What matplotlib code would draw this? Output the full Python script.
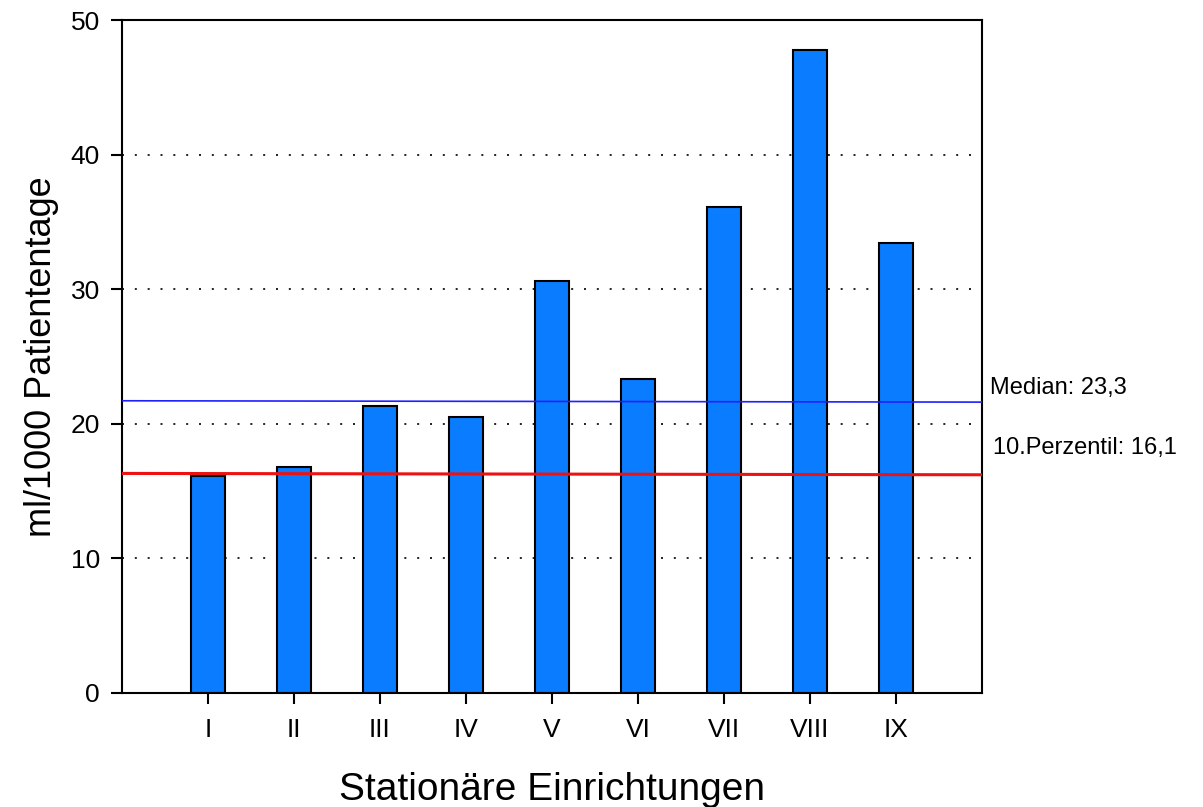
import matplotlib
matplotlib.use("Agg")
import matplotlib.pyplot as plt

categories = ["I", "II", "III", "IV", "V", "VI", "VII", "VIII", "IX"]
values = [16.1, 16.8, 21.3, 20.5, 30.6, 23.3, 36.1, 47.8, 33.4]
median_line = [21.7, 21.6]
perz_line = [16.3, 16.2]
median_label = "Median: 23,3"
perz_label = "10.Perzentil: 16,1"

plt.rcParams['font.family'] = ['Liberation Sans', 'DejaVu Sans']

fig = plt.figure(figsize=(12.03, 8.07), dpi=100)
ax = fig.add_axes([0.1014, 0.1416, 0.7149, 0.8336])

x = list(range(1, len(categories) + 1))
ax.set_xlim(0, 10)
ax.set_ylim(0, 50)

for yv in [10, 20, 30, 40]:
    ax.plot([0, 10], [yv, yv], color='black', linestyle=(0, (1.2, 6.5)), linewidth=1.2, zorder=1)

ax.bar(x, values, width=0.4, color='#0A7CFF', edgecolor='black', linewidth=1.5, zorder=2)

ax.plot([0, 10], median_line, color='#1f1fff', linewidth=1.2, zorder=3)
ax.plot([0, 10], perz_line, color='#ee1111', linewidth=2.2, zorder=3)

ax.text(1.009, median_line[1] + 0.25, median_label, transform=ax.get_yaxis_transform(),
        fontsize=17, va='bottom', ha='left')
ax.text(1.013, perz_line[1] + 1.2, perz_label, transform=ax.get_yaxis_transform(),
        fontsize=17, va='bottom', ha='left')

ax.set_xticks(x)
ax.set_xticklabels(categories, fontsize=19)
ax.set_yticks([0, 10, 20, 30, 40, 50])
ax.tick_params(axis='y', labelsize=19, length=8, width=1.5, direction='out', pad=8)
ax.tick_params(axis='x', length=8, width=1.5, direction='out', pad=10)

for s in ax.spines.values():
    s.set_linewidth(1.5)

ax.set_ylabel("ml/1000 Patiententage", fontsize=26, labelpad=8)
ax.set_xlabel("Stationäre Einrichtungen", fontsize=28, labelpad=22)

fig.savefig("out.png", dpi=100)
